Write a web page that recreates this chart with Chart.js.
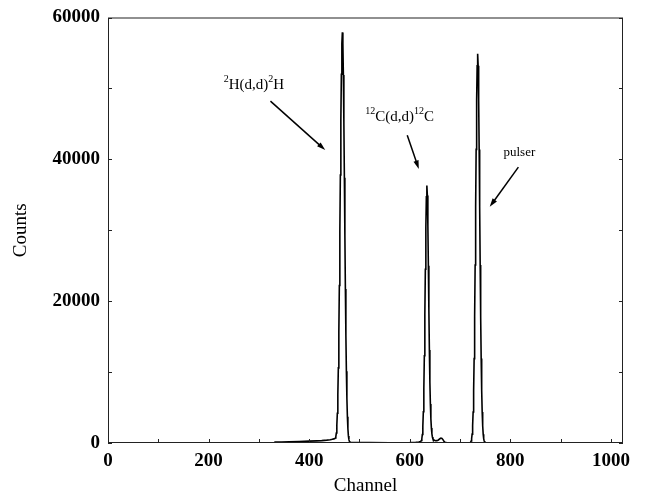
<!DOCTYPE html>
<html>
<head>
<meta charset="utf-8">
<script src="https://cdn.jsdelivr.net/npm/chart.js@4/dist/chart.umd.min.js"></script>
<style>
  html, body { margin: 0; padding: 0; background: #fff; }
  #wrap { width: 650px; height: 498px; }
</style>
</head>
<body>
<div id="wrap"><canvas id="chart" width="650" height="498"></canvas></div>
<script>
'use strict';

// spectrum: channel -> counts
const channels = [
    0, 100, 200, 300, 330,
    332, 345, 360, 380, 400, 415, 425, 435, 442, 446, 449, 451,
    452, 453, 454, 455, 456, 457, 458, 459, 460, 461, 462, 463, 464, 465,
    466, 467, 468, 469, 470, 471, 472, 473, 474, 475, 476, 477, 478, 479,
    480, 482, 490, 520, 560, 600, 612, 618, 621,
    622, 623, 624, 625, 626, 627, 628, 629, 630, 631, 632, 633,
    634, 635, 636, 637, 638, 639, 640, 641, 642, 643, 644, 645, 646,
    648, 651, 654, 657, 660, 662, 664, 666, 668, 670, 674, 700, 715,
    720, 721, 722, 723, 724, 725, 726, 727, 728, 729, 730, 731, 732, 733, 734,
    735, 736, 737, 738, 739, 740, 741, 742, 743, 744, 745, 746, 747, 748, 749,
    751, 760, 800, 900, 1024
];
const counts = [
    0, 0, 0, 0, 0,
    120, 140, 170, 210, 260, 300, 340, 400, 460, 520, 580, 640,
    700, 900, 1400, 2500, 4200, 6800, 10600, 15700, 22200, 29800, 37800, 45500, 52000, 56300,
    57900, 56300, 51900, 45200, 37400, 29300, 21700, 15200, 10100, 6300, 3700, 2000, 1000, 480,
    220, 90, 60, 50, 40, 60, 90, 140, 200,
    250, 350, 600, 1200, 2400, 4400, 7700, 12300, 18100, 24500, 30400, 34700,
    36300, 34900, 30700, 25000, 18800, 13100, 8600, 5500, 3400, 2100, 1300, 850, 600,
    420, 320, 330, 430, 600, 700, 650, 480, 250, 100, 40, 30, 40,
    80, 130, 280, 610, 1250, 2420, 4370, 7430, 11900, 17800, 25100, 33300, 41400, 48400, 53200,
    54900, 53200, 48400, 41400, 33300, 25100, 17800, 11900, 7430, 4370, 2420, 1250, 610, 280, 120,
    40, 20, 10, 0, 0
];

// axis ranges and tick labels
const xRange = [0, 1024];
const yRange = [0, 60000];
const xTickLabels = [0, 200, 400, 600, 800, 1000];
const yTickLabels = [0, 20000, 40000, 60000];

// peak labels: text pieces (sup = superscript), label centre and arrow (data units)
const peakLabels = [
    [{ t: '2', sup: true }, { t: 'H(d,d)' }, { t: '2', sup: true }, { t: 'H' }],
    [{ t: '12', sup: true }, { t: 'C(d,d)' }, { t: '12', sup: true }, { t: 'C' }],
    [{ t: 'pulser' }]
];
const labelAt = [[290, 50500], [580, 46000], [818, 40900]];
const arrowFrom = [[323, 48200], [595, 43400], [816, 38900]];
const arrowTo = [[432, 41300], [618, 38650], [759, 33300]];
const labelSizes = [15, 15, 13];

const FONT = "'Liberation Serif', 'Times New Roman', serif";

const frame = {
    id: 'frame',
    afterDraw: function (chart) {
        const ctx = chart.ctx;
        const a = chart.chartArea;
        const x = chart.scales.x;
        const y = chart.scales.y;

        ctx.save();
        ctx.strokeStyle = '#222';
        ctx.lineWidth = 1;
        ctx.strokeRect(a.left + 0.5, a.top + 0.5, a.right - a.left - 1, a.bottom - a.top - 1);

        // small inward ticks
        ctx.beginPath();
        for (let v = 0; v <= 1000; v += 100) {
            const px = Math.round(x.getPixelForValue(v)) + 0.5;
            ctx.moveTo(px, a.bottom);
            ctx.lineTo(px, a.bottom - 4);
        }
        for (let v = 0; v <= 60000; v += 10000) {
            const py = Math.round(y.getPixelForValue(v)) + 0.5;
            ctx.moveTo(a.left, py);
            ctx.lineTo(a.left + 4, py);
            ctx.moveTo(a.right, py);
            ctx.lineTo(a.right - 4, py);
        }
        ctx.stroke();
        ctx.restore();
    }
};

const annotations = {
    id: 'annotations',
    afterDatasetsDraw: function (chart) {
        const ctx = chart.ctx;
        const x = chart.scales.x;
        const y = chart.scales.y;

        ctx.save();
        ctx.fillStyle = '#000';
        ctx.strokeStyle = '#000';
        ctx.textBaseline = 'middle';
        ctx.textAlign = 'left';

        peakLabels.forEach(function (parts, i) {
            const mainFont = labelSizes[i] + 'px ' + FONT;
            const supFont = Math.round(labelSizes[i] * 0.66) + 'px ' + FONT;
            let width = 0;
            parts.forEach(function (p) {
                ctx.font = p.sup ? supFont : mainFont;
                width += ctx.measureText(p.t).width;
            });
            let cx = x.getPixelForValue(labelAt[i][0]) - width / 2;
            const cy = y.getPixelForValue(labelAt[i][1]);
            parts.forEach(function (p) {
                ctx.font = p.sup ? supFont : mainFont;
                ctx.fillText(p.t, cx, p.sup ? cy - 5 : cy);
                cx += ctx.measureText(p.t).width;
            });

            // arrow
            const x0 = x.getPixelForValue(arrowFrom[i][0]);
            const y0 = y.getPixelForValue(arrowFrom[i][1]);
            const x1 = x.getPixelForValue(arrowTo[i][0]);
            const y1 = y.getPixelForValue(arrowTo[i][1]);
            const ang = Math.atan2(y1 - y0, x1 - x0);
            ctx.lineWidth = 1.5;
            ctx.beginPath();
            ctx.moveTo(x0, y0);
            ctx.lineTo(x1 - 6 * Math.cos(ang), y1 - 6 * Math.sin(ang));
            ctx.stroke();
            ctx.beginPath();
            ctx.moveTo(x1, y1);
            ctx.lineTo(x1 - 9 * Math.cos(ang - 0.3), y1 - 9 * Math.sin(ang - 0.3));
            ctx.lineTo(x1 - 9 * Math.cos(ang + 0.3), y1 - 9 * Math.sin(ang + 0.3));
            ctx.closePath();
            ctx.fill();
        });
        ctx.restore();
    }
};

const ctx = document.getElementById('chart').getContext('2d');

const chart = new Chart(ctx, {
    type: 'line',
    data: {
        datasets: [{
            label: 'Counts',
            data: channels.map((c, i) => ({ x: c, y: counts[i] })),
            borderColor: '#000',
            borderWidth: 1.6,
            pointRadius: 0,
            tension: 0,
            fill: false
        }]
    },
    options: {
        responsive: false,
        animation: false,
        layout: {
            padding: { top: 14, right: 27, left: 0, bottom: 0 }
        },
        plugins: {
            legend: { display: false },
            tooltip: { enabled: false }
        },
        scales: {
            x: {
                type: 'linear',
                min: xRange[0],
                max: xRange[1],
                grid: { display: false, drawTicks: false },
                border: { display: false },
                afterBuildTicks: function (scale) {
                    scale.ticks = xTickLabels.map(v => ({ value: v }));
                },
                ticks: {
                    autoSkip: false,
                    maxRotation: 0,
                    padding: 9,
                    color: '#000',
                    font: { family: FONT, size: 19, weight: 'bold', lineHeight: 1 },
                    callback: function (value) { return String(value); }
                },
                title: {
                    display: true,
                    text: 'Channel',
                    color: '#000',
                    padding: { top: 0, bottom: 2 },
                    font: { family: FONT, size: 19, lineHeight: 1 }
                },
                afterFit: function (scale) { scale.height = 55; }
            },
            y: {
                min: yRange[0],
                max: yRange[1],
                grid: { display: false, drawTicks: false },
                border: { display: false },
                afterBuildTicks: function (scale) {
                    scale.ticks = yTickLabels.map(v => ({ value: v }));
                },
                ticks: {
                    padding: 8,
                    color: '#000',
                    font: { family: FONT, size: 19, weight: 'bold', lineHeight: 1 },
                    callback: function (value) { return String(value); }
                },
                title: {
                    display: true,
                    text: 'Counts',
                    color: '#000',
                    padding: { top: 12, bottom: 0 },
                    font: { family: FONT, size: 19, lineHeight: 1 }
                },
                afterFit: function (scale) { scale.width = 108; }
            }
        }
    },
    plugins: [frame, annotations]
});
</script>
</body>
</html>
